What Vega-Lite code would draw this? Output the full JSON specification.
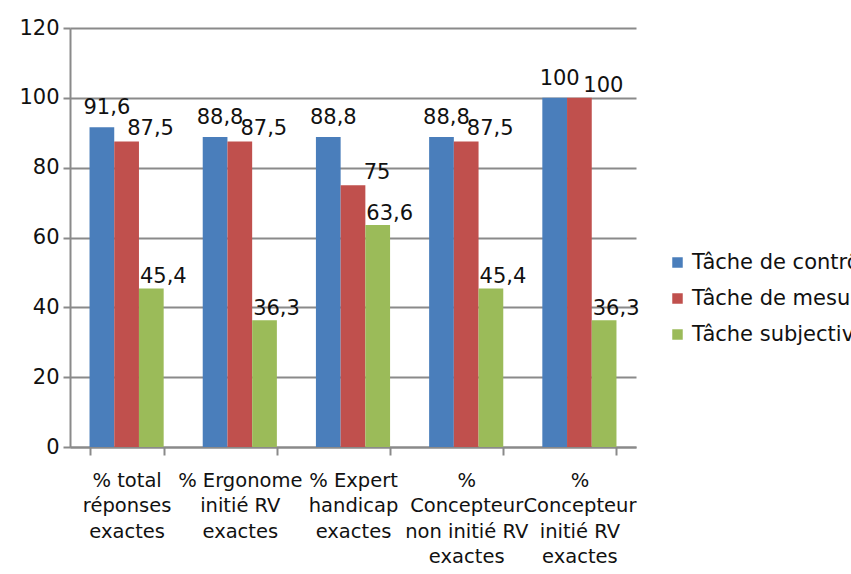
{
  "$schema": "https://vega.github.io/schema/vega-lite/v6.json",
  "width": 566,
  "height": 419,
  "autosize": {"type": "none"},
  "padding": {"left": 70, "top": 28, "right": 215, "bottom": 127},
  "background": "white",
  "config": {
    "font": "DejaVu Sans",
    "view": {"stroke": null},
    "locale": {"number": {"decimal": ",", "thousands": " ", "grouping": [3], "currency": ["", " €"]}}
  },
  "data": {
    "values": [
      {"categorie": "% total|réponses|exactes", "serie": "Tâche de contrôle", "valeur": 91.6},
      {"categorie": "% total|réponses|exactes", "serie": "Tâche de mesure", "valeur": 87.5},
      {"categorie": "% total|réponses|exactes", "serie": "Tâche subjective", "valeur": 45.4},
      {"categorie": "% Ergonome|initié RV|exactes", "serie": "Tâche de contrôle", "valeur": 88.8},
      {"categorie": "% Ergonome|initié RV|exactes", "serie": "Tâche de mesure", "valeur": 87.5},
      {"categorie": "% Ergonome|initié RV|exactes", "serie": "Tâche subjective", "valeur": 36.3},
      {"categorie": "% Expert|handicap|exactes", "serie": "Tâche de contrôle", "valeur": 88.8},
      {"categorie": "% Expert|handicap|exactes", "serie": "Tâche de mesure", "valeur": 75},
      {"categorie": "% Expert|handicap|exactes", "serie": "Tâche subjective", "valeur": 63.6},
      {"categorie": "%|Concepteur|non initié RV|exactes", "serie": "Tâche de contrôle", "valeur": 88.8},
      {"categorie": "%|Concepteur|non initié RV|exactes", "serie": "Tâche de mesure", "valeur": 87.5},
      {"categorie": "%|Concepteur|non initié RV|exactes", "serie": "Tâche subjective", "valeur": 45.4},
      {"categorie": "%|Concepteur|initié RV|exactes", "serie": "Tâche de contrôle", "valeur": 100},
      {"categorie": "%|Concepteur|initié RV|exactes", "serie": "Tâche de mesure", "valeur": 100},
      {"categorie": "%|Concepteur|initié RV|exactes", "serie": "Tâche subjective", "valeur": 36.3}
    ]
  },
  "encoding": {
    "x": {
      "field": "categorie",
      "type": "nominal",
      "sort": null,
      "scale": {"paddingInner": 0.345, "paddingOuter": 0.1725},
      "axis": {
        "title": null,
        "labelAngle": 0,
        "labelExpr": "split(datum.label, '|')",
        "labelFontSize": 19.5,
        "labelLineHeight": 25.5,
        "labelColor": "#111111",
        "labelPadding": 16,
        "labelLimit": 300,
        "tickBand": "extent",
        "tickSize": 8,
        "tickWidth": 2,
        "tickColor": "#8a8a8a",
        "domainColor": "#8a8a8a",
        "domainWidth": 2
      }
    },
    "xOffset": {
      "field": "serie",
      "type": "nominal",
      "sort": ["Tâche de contrôle", "Tâche de mesure", "Tâche subjective"],
      "scale": {"paddingInner": 0, "paddingOuter": 0}
    },
    "y": {
      "field": "valeur",
      "type": "quantitative",
      "scale": {"domain": [0, 120], "nice": false},
      "axis": {
        "title": null,
        "values": [0, 20, 40, 60, 80, 100, 120],
        "labelFontSize": 21,
        "labelColor": "#111111",
        "labelPadding": 4,
        "tickSize": 7,
        "tickWidth": 2,
        "tickColor": "#8a8a8a",
        "domainColor": "#8a8a8a",
        "domainWidth": 2,
        "grid": true,
        "gridColor": "#8a8a8a",
        "gridWidth": 2
      }
    }
  },
  "layer": [
    {
      "mark": {"type": "bar"},
      "encoding": {
        "color": {
          "field": "serie",
          "type": "nominal",
          "scale": {
            "domain": ["Tâche de contrôle", "Tâche de mesure", "Tâche subjective"],
            "range": ["#4A7EBB", "#C0504D", "#9BBB59"]
          },
          "legend": {
            "title": null,
            "orient": "none",
            "legendX": 597,
            "legendY": 224,
            "symbolType": "square",
            "symbolSize": 110,
            "symbolStrokeWidth": 0,
            "labelFontSize": 21,
            "labelColor": "#111111",
            "labelLimit": 400,
            "labelOffset": 4,
            "rowPadding": 14
          }
        }
      }
    },
    {
      "transform": [{"filter": "datum.serie === 'Tâche de contrôle'"}],
      "mark": {"type": "text", "baseline": "bottom", "fontSize": 21, "dx": 5, "dy": -9, "color": "#111111"},
      "encoding": {"text": {"field": "valeur", "type": "quantitative", "format": "~g"}}
    },
    {
      "transform": [{"filter": "datum.serie === 'Tâche de mesure'"}],
      "mark": {"type": "text", "baseline": "bottom", "fontSize": 21, "dx": 24, "dy": -2, "color": "#111111"},
      "encoding": {"text": {"field": "valeur", "type": "quantitative", "format": "~g"}}
    },
    {
      "transform": [{"filter": "datum.serie === 'Tâche subjective'"}],
      "mark": {"type": "text", "baseline": "bottom", "fontSize": 21, "dx": 12, "dy": -1, "color": "#111111"},
      "encoding": {"text": {"field": "valeur", "type": "quantitative", "format": "~g"}}
    }
  ]
}
